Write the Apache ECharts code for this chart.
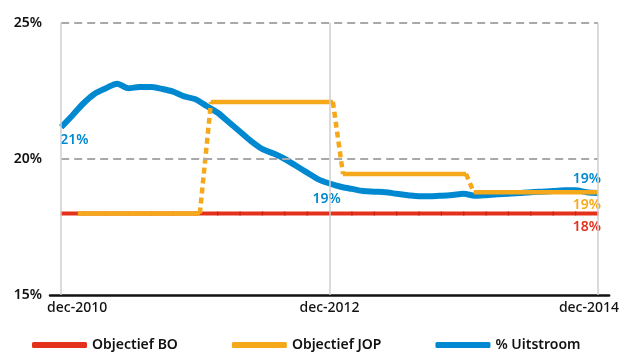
<!DOCTYPE html>
<html>
<head>
<meta charset="utf-8">
<script src="https://cdn.jsdelivr.net/npm/echarts@6/dist/echarts.min.js"></script>
<style>
  html, body { margin: 0; padding: 0; background: #fff; }
  #chart { width: 622px; height: 353px; }
</style>
</head>
<body>
<div id="chart"></div>
<script>
// maanden dec-2010 .. dec-2014 (positie = index)
var maanden = ['dec-2010','jan-2011','feb-2011','mrt-2011','apr-2011','mei-2011','jun-2011','jul-2011','aug-2011','sep-2011','okt-2011','nov-2011',
  'dec-2011','jan-2012','feb-2012','mrt-2012','apr-2012','mei-2012','jun-2012','jul-2012','aug-2012','sep-2012','okt-2012','nov-2012',
  'dec-2012','jan-2013','feb-2013','mrt-2013','apr-2013','mei-2013','jun-2013','jul-2013','aug-2013','sep-2013','okt-2013','nov-2013',
  'dec-2013','jan-2014','feb-2014','mrt-2014','apr-2014','mei-2014','jun-2014','jul-2014','aug-2014','sep-2014','okt-2014','nov-2014',
  'dec-2014'];
var asLabels = ['dec-2010', 'dec-2012', 'dec-2014'];
var yTicks = [15, 20, 25];

// % Uitstroom per maand
var uitstroom = [21.17, 21.6, 22.05, 22.4, 22.6, 22.77, 22.6, 22.65, 22.65, 22.58, 22.48, 22.3,
  22.2, 21.95, 21.7, 21.35, 21.0, 20.65, 20.36, 20.2, 20.0, 19.75, 19.5, 19.25,
  19.1, 18.98, 18.9, 18.82, 18.8, 18.78, 18.72, 18.67, 18.63, 18.63, 18.65, 18.68,
  18.72, 18.65, 18.67, 18.7, 18.72, 18.75, 18.78, 18.8, 18.82, 18.85, 18.85, 18.78,
  18.75];

// Objectief JOP (maandpositie, waarde) - overgangen gestippeld
var jopMaand  = [1.5, 12.4, 13.4, 24.3, 25.2, 36.2, 36.9, 48];
var jopWaarde = [18, 18, 22.1, 22.1, 19.45, 19.45, 18.78, 18.78];

// Objectief BO (streepjes om de 2 maanden)
var boMaand = [0, 2, 4, 6, 8, 10, 12, 14, 16, 18, 20, 22, 24, 26, 28, 30, 32, 34, 36, 38, 40, 42, 44, 46, 48];
var boWaarde = 18;

var colors = ['#e3311c', '#f6a81b', '#0089d0', '#111111', '#a9a9a9', '#cfcfcf']; // rood oranje blauw zwart raster-grijs lijn-grijs
var fontFam = '"Noto Sans", sans-serif';

var myChart = echarts.init(document.getElementById('chart'));

function pct(v) { return Math.round(v) + '%'; }

// blauwe lijn
var blauwData = uitstroom.map(function (v, i) {
  var item = { value: [i, v] };
  if (maanden[i] === 'dec-2010') {
    item.label = { show: true, position: 'bottom', align: 'left', distance: 5, offset: [-1, 0] };
  } else if (maanden[i] === 'dec-2012') {
    item.label = { show: true, position: 'bottom', distance: 6, offset: [-3, 2] };
  } else if (i === uitstroom.length - 1) {
    item.label = { show: true, position: 'top', align: 'right', distance: 6, offset: [3, 0] };
  }
  return item;
});

// rode lijn
var roodData = boMaand.map(function (m, i) {
  var item = { value: [m, boWaarde] };
  if (i === boMaand.length - 1) {
    item.label = { show: true, position: 'bottom', align: 'right', distance: 5, offset: [3, 0] };
  }
  return item;
});

// rasterlijnen
var rasterLijnen = [];
[20, 25].forEach(function (y) {
  rasterLijnen.push([{ coord: [0, y], lineStyle: { type: [8, 5], color: colors[4], width: 2 } },
                     { coord: [48, y] }]);
});
asLabels.forEach(function (naam) {
  var m = maanden.indexOf(naam);
  rasterLijnen.push([{ coord: [m, yTicks[0]], lineStyle: { type: 'solid', color: colors[5], width: 1.5 } },
                     { coord: [m, yTicks[yTicks.length - 1]] }]);
});

var labelStijl = function (kleur) {
  return { color: kleur, fontSize: 14, fontWeight: 600, fontFamily: fontFam, formatter: function (p) { return pct(p.value[1]); } };
};

var series = [
  {
    name: 'Objectief BO',
    type: 'line',
    z: 2,
    data: roodData,
    symbol: 'rect',
    symbolSize: [1.2, 4],
    itemStyle: { color: '#c02614' },
    lineStyle: { color: colors[0], width: 4 },
    label: labelStijl(colors[0]),
    markLine: {
      silent: true,
      symbol: 'none',
      label: { show: false },
      animation: false,
      data: rasterLijnen
    }
  },
  {
    name: '% Uitstroom',
    type: 'line',
    z: 3,
    data: blauwData,
    symbol: 'circle',
    symbolSize: 1,
    smooth: 0.3,
    lineStyle: { color: colors[2], width: 6 },
    itemStyle: { color: colors[2] },
    label: labelStijl(colors[2])
  }
];

// oranje segmenten: even = doorgetrokken, oneven = gestippeld
for (var i = 0; i < jopMaand.length - 1; i++) {
  var laatste = (i === jopMaand.length - 2);
  series.push({
    name: 'Objectief JOP',
    type: 'line',
    z: 4,
    symbol: 'circle',
    symbolSize: 1,
    data: [
      { value: [jopMaand[i], jopWaarde[i]] },
      { value: [jopMaand[i + 1], jopWaarde[i + 1]],
        label: laatste ? { show: true, position: 'bottom', align: 'right', distance: 5, offset: [3, 0] } : { show: false } }
    ],
    lineStyle: { color: colors[1], width: 4.5, type: (i % 2 === 1) ? [6, 4] : 'solid' },
    itemStyle: { color: colors[1] },
    label: labelStijl(colors[1])
  });
}

var option = {
  animation: false,
  grid: {
    left: 50,
    right: 12,
    top: 23,
    bottom: 58
  },
  legend: {
    data: [
      { name: 'Objectief BO', itemStyle: { color: colors[0] } },
      { name: 'Objectief JOP', itemStyle: { color: colors[1] } },
      { name: '% Uitstroom', itemStyle: { color: colors[2] } }
    ],
    left: 32,
    top: 338,
    padding: 0,
    icon: 'roundRect',
    itemWidth: 55,
    itemHeight: 6,
    itemGap: 54,
    textStyle: { color: colors[3], fontSize: 14, fontFamily: fontFam, fontWeight: 600 }
  },
  xAxis: {
    type: 'value',
    min: -1,
    max: 49,
    axisLine: { lineStyle: { color: colors[3], width: 2.5 } },
    axisTick: { show: false },
    splitLine: { show: false },
    axisLabel: {
      customValues: asLabels.map(function (n) { return maanden.indexOf(n); }),
      margin: 6,
      color: colors[3],
      fontSize: 14,
      fontWeight: 500,
      fontFamily: fontFam,
      formatter: function (v) {
        var naam = maanden[v];
        if (v === 0) return '{l|' + naam + '}';
        if (v === maanden.length - 1) return '{r|' + naam + '}';
        return naam;
      },
      rich: {
        l: { padding: [0, 0, 0, 32], fontSize: 14, fontWeight: 500, fontFamily: fontFam, color: colors[3] },
        r: { padding: [0, 18, 0, 0], fontSize: 14, fontWeight: 500, fontFamily: fontFam, color: colors[3] }
      }
    }
  },
  yAxis: {
    type: 'value',
    min: yTicks[0],
    max: yTicks[yTicks.length - 1],
    interval: 5,
    axisLine: { show: false },
    axisTick: { show: false },
    splitLine: { show: false },
    axisLabel: {
      margin: 8,
      color: colors[3],
      fontSize: 14,
      fontWeight: 600,
      fontFamily: fontFam,
      padding: [0, 0, 6, 0],
      formatter: '{value}%'
    }
  },
  series: series
};

myChart.setOption(option);
</script>
</body>
</html>
